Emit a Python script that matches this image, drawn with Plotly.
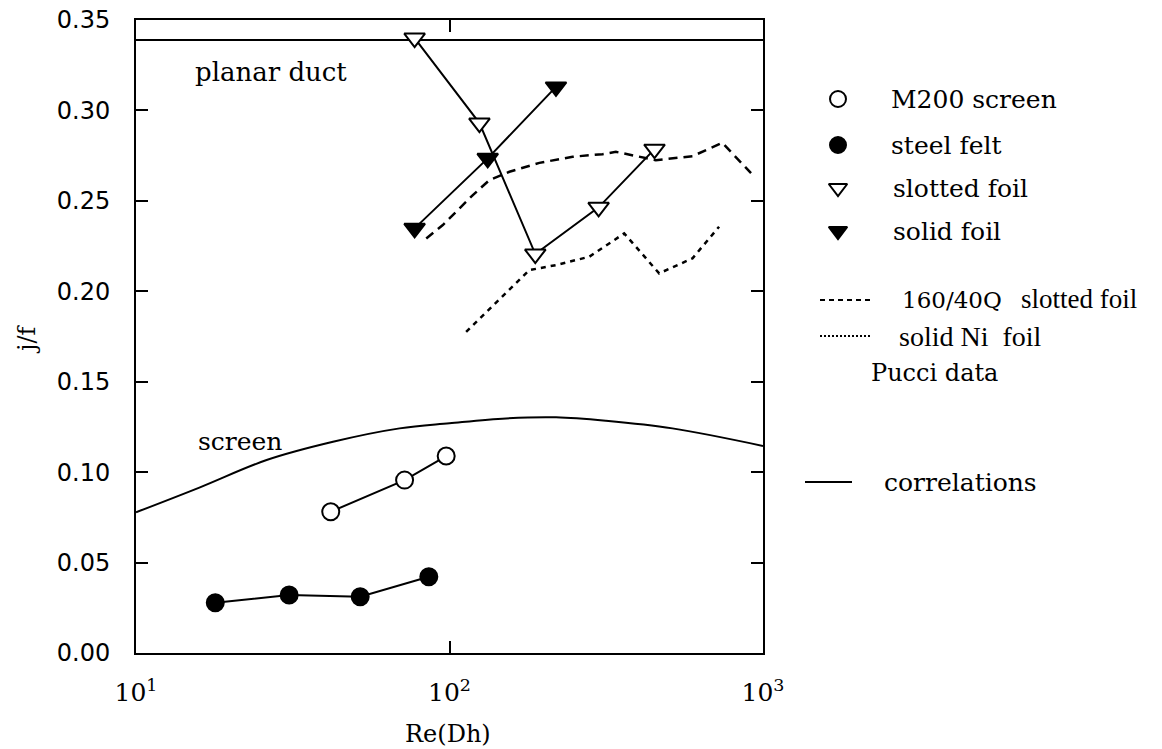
import plotly.graph_objects as go

OFF = 0
W, H = 1162, 749
L, R, T, B = 136, 763, 20, 653

# ---- data ----
re_steel = [17.9, 30.8, 51.9, 85.9]
jf_steel = [0.0278, 0.0321, 0.0311, 0.0422]

re_m200 = [41.8, 71.9, 97.6]
jf_m200 = [0.0781, 0.0956, 0.1089]

re_slot = [77.4, 124.6, 187.8, 299.0, 450.8]
jf_slot = [0.340, 0.293, 0.2206, 0.2464, 0.2786]

re_solid = [77.4, 132.4, 218.6]
jf_solid = [0.2348, 0.2735, 0.313]

re_pucci_slot = [84.3, 95.2, 118.7, 134.1, 155.3, 193.5, 247.0, 307.7, 339.6, 402.8, 455.2, 595.6, 741.9, 915.9]
jf_pucci_slot = [0.2292, 0.2366, 0.2532, 0.2615, 0.2661, 0.2710, 0.2744, 0.2758, 0.2771, 0.2744, 0.2725, 0.2747, 0.2821, 0.2653]

re_pucci_ni = [113.0, 179.8, 218.7, 279.2, 360.8, 466.5, 595.6, 724.3]
jf_pucci_ni = [0.1776, 0.2117, 0.2145, 0.2191, 0.2320, 0.2099, 0.2182, 0.2357]

re_screen_corr = [10, 16, 26.1, 42.5, 69.3, 100, 151.5, 218.7, 315.5, 514, 1000]
jf_screen_corr = [0.0778, 0.0916, 0.1067, 0.1168, 0.1242, 0.127, 0.1297, 0.1303, 0.1284, 0.1242, 0.1145]

re_duct = [10, 1000]
jf_duct = [0.339, 0.339]

x_tickvals = [10, 100, 1000]
x_ticktext = ["10<sup>1</sup>", "10<sup>2</sup>", "10<sup>3</sup>"]
y_tickvals = [0.00, 0.05, 0.10, 0.15, 0.20, 0.25, 0.30, 0.35]

SERIF = "DejaVu Serif"
TIMES = "Liberation Serif"
SANS = "DejaVu Sans"
BLK = "black"

fig = go.Figure()

def line(x, y, dash="solid", shape="linear", width=2):
    fig.add_trace(go.Scatter(x=x, y=y, mode="lines", xaxis="x", yaxis="y",
                             line=dict(color=BLK, width=width, dash=dash, shape=shape),
                             showlegend=False, hoverinfo="skip"))

def pts(x, y, symbol, fill, size=17):
    fig.add_trace(go.Scatter(x=x, y=y, mode="lines+markers", xaxis="x", yaxis="y",
                             line=dict(color=BLK, width=2),
                             marker=dict(symbol=symbol, size=size, color=fill,
                                         line=dict(color=BLK, width=2)),
                             showlegend=False, hoverinfo="skip", cliponaxis=False))

line(re_duct, jf_duct)
line(re_screen_corr, jf_screen_corr, shape="spline")
line(re_pucci_slot, jf_pucci_slot, dash="9px,6px", width=2.5)
line(re_pucci_ni, jf_pucci_ni, dash="5px,5px", width=2.5)
pts(re_steel, jf_steel, "circle", BLK)
pts(re_m200, jf_m200, "circle", "white")
pts(re_slot, jf_slot, "triangle-down", "white", 18)
pts(re_solid, jf_solid, "triangle-down", BLK, 18)

# ---- legend (overlay in page-pixel coordinates) ----
def lmark(px, py, symbol, fill, size=17):
    fig.add_trace(go.Scatter(x=[px - OFF], y=[py - OFF], mode="markers", xaxis="x2", yaxis="y2",
                             marker=dict(symbol=symbol, size=size, color=fill,
                                         line=dict(color=BLK, width=2)),
                             showlegend=False, hoverinfo="skip", cliponaxis=False))

def lline(x0, x1, py, dash, width=2):
    fig.add_trace(go.Scatter(x=[x0 - OFF, x1 - OFF], y=[py - OFF, py - OFF], mode="lines",
                             xaxis="x2", yaxis="y2",
                             line=dict(color=BLK, width=width, dash=dash),
                             showlegend=False, hoverinfo="skip", cliponaxis=False))

lmark(838, 99, "circle", "white", 16)
lmark(838, 145, "circle", BLK, 16)
lmark(838, 188, "triangle-down", "white", 16)
lmark(838, 231, "triangle-down", BLK, 16)
lline(820, 871, 300, "5px,4px")
lline(820, 871, 336, "2px,2px")
lline(805, 852, 482, "solid")

anns = []
def txt(px, py, s, size=25, family=SERIF, xanchor="left", angle=0):
    anns.append(dict(x=px - OFF, y=py - OFF, xref="x2", yref="y2", text=s, showarrow=False,
                     xanchor=xanchor, yanchor="middle", textangle=angle,
                     font=dict(family=family, size=size, color=BLK)))

txt(889, 99, "M200 screen")
txt(889, 145, "steel felt")
txt(891, 188, "slotted foil")
txt(891, 231, "solid foil")
txt(900, 300, "160/40Q", size=23)
txt(1019, 299, "slotted foil", size=27, family=TIMES)
txt(897, 336, "solid Ni\u00a0\u00a0foil", size=28, family=TIMES)
txt(869, 373, "Pucci data", size=24)
txt(882, 482, "correlations", size=25)
txt(193, 72, "planar duct", size=26)
txt(196, 441, "screen", size=25)
txt(448, 734, "Re(Dh)", size=24, xanchor="center")
txt(27, 339, "j/f", size=24, xanchor="center", angle=-90)

fig.update_layout(
    template="none",
    width=W, height=H, autosize=False,
    margin=dict(l=0, r=0, t=0, b=0, pad=0, autoexpand=False),
    paper_bgcolor="white", plot_bgcolor="rgba(0,0,0,0)",
    showlegend=False,
    xaxis=dict(type="log", range=[1, 3], domain=[L / W, R / W], anchor="y",
               tickvals=x_tickvals, ticktext=x_ticktext, ticks="inside", ticklen=12,
               tickwidth=2, tickcolor=BLK, showline=True, linecolor=BLK, linewidth=2,
               mirror="ticks", showgrid=False, zeroline=False, ticklabelstandoff=16,
               ticklabeloverflow="allow",
               automargin=False, tickfont=dict(family=SERIF, size=25, color=BLK)),
    yaxis=dict(range=[0, 0.35], domain=[1 - B / H, 1 - T / H], anchor="x",
               tickvals=y_tickvals, tickformat=".2f", ticks="inside", ticklen=12,
               tickwidth=2, tickcolor=BLK, showline=True, linecolor=BLK, linewidth=2,
               mirror="ticks", showgrid=False, zeroline=False, ticklabelstandoff=19,
               ticklabeloverflow="allow",
               automargin=False, tickfont=dict(family=SANS, size=24, color=BLK)),
    xaxis2=dict(range=[0, W], domain=[0, 1], anchor="y2", visible=False,
                fixedrange=True, automargin=False),
    yaxis2=dict(range=[H, 0], domain=[0, 1], anchor="x2", visible=False,
                fixedrange=True, automargin=False),
    annotations=anns,
)

fig.write_html("out.html", config={"displayModeBar": False},
               post_script="document.body.style.margin='0';document.body.style.overflow='hidden';")
